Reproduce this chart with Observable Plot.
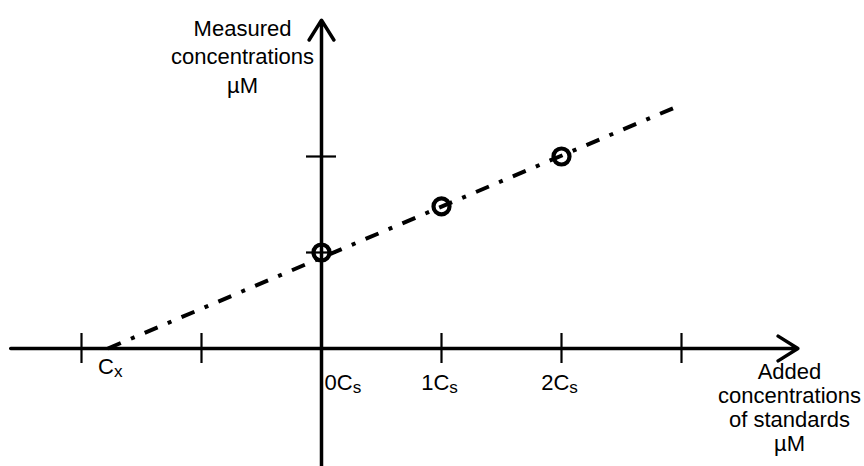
<!DOCTYPE html>
<html>
<head>
<meta charset="utf-8">
<script src="https://cdn.jsdelivr.net/npm/d3@7"></script>
<script src="https://cdn.jsdelivr.net/npm/@observablehq/plot@0.6"></script>
<style>
  html, body { margin: 0; padding: 0; background: #fff; }
  svg text { font-family: "Liberation Sans", Arial, sans-serif; }
</style>
</head>
<body>
<div id="chart"></div>
<script>
// Standard addition data (x in units of Cs, y in arbitrary concentration units)
const addedX = [0, 1, 2];
const measuredY = [1.0, 1.48, 2.0];
// fitted line extent (from x-intercept Cx to beyond last point)
const fitX = [-1.78, 3.0];
const fitY = [0.0, 2.54];
// axis extents
const xAxisExtent = [-2.59, 3.97];
const yAxisExtent = [-1.23, 3.42];
// ticks
const xTicks = [-2, -1, 1, 2, 3];
const yTicks = [1, 2];
// tick labels
const xLabelPos = [-1.76, 0, 1, 2];
const xLabelText = ["C_x", "0C_s", "1C_s", "2C_s"];
const xLabelAnchor = ["middle", "start", "middle", "middle"];
// axis titles
const xTitle = "Added\nconcentrations\nof standards\nµM";
const yTitle = "Measured\nconcentrations\nµM";
const xTitlePos = [3.9, -0.135];
const yTitlePos = [-0.658, 3.47];

const points = addedX.map((x, i) => ({x, y: measuredY[i]}));
const fit = fitX.map((x, i) => ({x, y: fitY[i]}));
const labels = xLabelPos.map((x, i) => ({x, text: xLabelText[i], anchor: xLabelAnchor[i]}));

const tickHalfY = 15 / 96, tickHalfX = 15 / 120;
const FS = 22;

const plot = Plot.plot({
  width: 864,
  height: 466,
  margin: 0,
  x: {domain: [-321 / 120, 543 / 120], axis: null},
  y: {domain: [-118 / 96, 348 / 96], axis: null},
  style: {background: "white", fontFamily: "'Liberation Sans', Arial, sans-serif"},
  marks: [
    // axes with arrow heads
    Plot.arrow([{}], {x1: xAxisExtent[0], x2: xAxisExtent[1], y1: 0, y2: 0,
      stroke: "black", strokeWidth: 3.5, headAngle: 64, headLength: 10}),
    Plot.arrow([{}], {x1: 0, x2: 0, y1: yAxisExtent[0], y2: yAxisExtent[1],
      stroke: "black", strokeWidth: 3.5, headAngle: 64, headLength: 10}),
    // ticks
    Plot.ruleX(xTicks, {x: d => d, y1: -tickHalfY, y2: tickHalfY, stroke: "black", strokeWidth: 2.2}),
    Plot.ruleY(yTicks, {y: d => d, x1: -tickHalfX, x2: tickHalfX, stroke: "black", strokeWidth: 2.2}),
    // fitted dash-dot line
    Plot.line(fit, {x: "x", y: "y", stroke: "black", strokeWidth: 4,
      strokeDasharray: "14,11,4,11", strokeLinecap: "butt"}),
    // data points
    Plot.dot(points, {x: "x", y: "y", r: 8, stroke: "black", strokeWidth: 4.2, fill: "none"}),
    // tick labels
    Plot.text(labels.filter(d => d.text === "C_x"), {x: "x", y: 0, text: "text", textAnchor: "middle",
      dy: 18, fontSize: FS, fill: "black", className: "sublabel"}),
    Plot.text(labels.filter(d => d.anchor === "middle" && d.text !== "C_x"), {x: "x", y: 0, text: "text",
      textAnchor: "middle", dx: -2, dy: 34, fontSize: FS, fill: "black", className: "sublabel"}),
    Plot.text(labels.filter(d => d.anchor === "start"), {x: "x", y: 0, text: "text", textAnchor: "start",
      dx: 3, dy: 34, fontSize: FS, fill: "black", className: "sublabel"}),
    // axis titles
    Plot.text([xTitle], {x: xTitlePos[0], y: xTitlePos[1], text: d => d, textAnchor: "middle",
      lineAnchor: "top", lineHeight: 1.1, fontSize: FS, fill: "black"}),
    Plot.text([yTitle], {x: yTitlePos[0], y: yTitlePos[1], text: d => d, textAnchor: "middle",
      lineAnchor: "top", lineHeight: 1.3, fontSize: FS, fill: "black"})
  ]
});

// convert "X_s" to subscripts
d3.select(plot).selectAll("g.sublabel text").each(function () {
  const t = this.textContent;
  const i = t.indexOf("_");
  if (i < 0) return;
  const sel = d3.select(this);
  sel.text(null);
  sel.append("tspan").text(t.slice(0, i));
  sel.append("tspan").attr("font-size", "0.78em").attr("dy", "0.2em").text(t.slice(i + 1));
});

document.getElementById("chart").appendChild(plot);
</script>
</body>
</html>
